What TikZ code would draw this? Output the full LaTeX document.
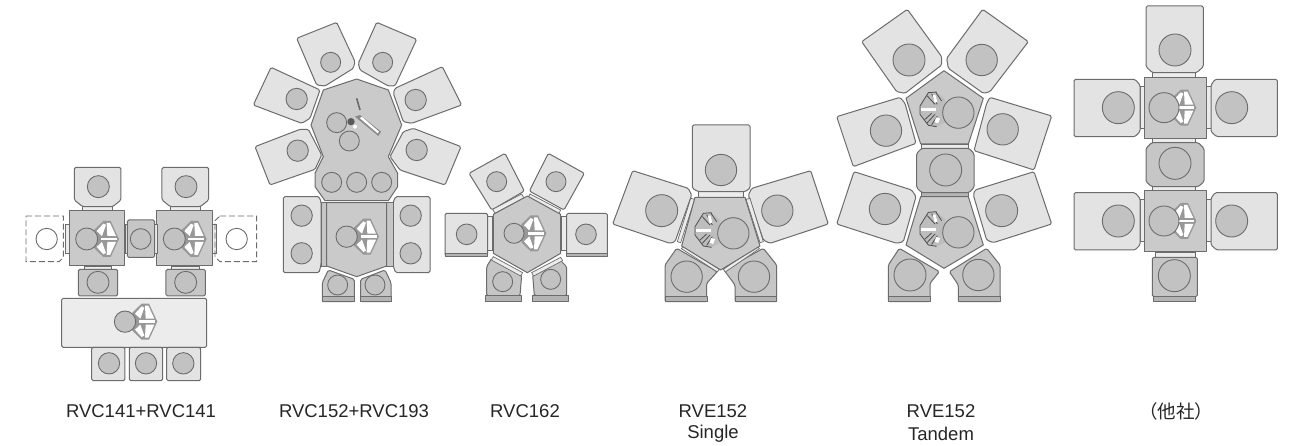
\documentclass[tikz,border=0pt]{standalone}
\usepackage{fontspec}
\setmainfont{Liberation Sans}
\newfontfamily\cjk{Noto Sans CJK JP}
\definecolor{lineg}{HTML}{6C6C6C}
\definecolor{lightg}{HTML}{E3E3E3}
\definecolor{paleg}{HTML}{ECECEC}
\definecolor{coreg}{HTML}{CACACA}
\definecolor{darkg}{HTML}{C6C6C6}
\definecolor{holeg}{HTML}{C2C2C2}
\definecolor{baseg}{HTML}{B4B4B4}
\tikzset{
  room/.style={draw=lineg,fill=lightg,line width=1pt,line join=round,rounded corners=1.5pt},
  core/.style={draw=lineg,fill=coreg,line width=1pt,line join=round},
  mid/.style={draw=lineg,fill=darkg,line width=1pt,line join=round,rounded corners=1.5pt},
  base/.style={draw=lineg,fill=baseg,line width=.9pt,line join=round},
  strip/.style={draw=lineg,fill=paleg,line width=.7pt},
  hole/.style={draw=lineg,fill=holeg,line width=.9pt},
  ghost/.style={draw=lineg,fill=white,line width=.9pt},
  ghostbox/.style={draw=lineg,dash pattern=on 6pt off 3pt,line width=.9pt},
  lab/.style={font=\fontsize{18.5}{22}\selectfont,text=black!85,anchor=center,inner sep=0pt},
  dia/.style={shift={#1},x=.33333pt,y=-.33333pt},
}
% light wrist: #1 centre of the robot's round body, #2 rotation, #3 scale
\newcommand{\wrist}[3]{%
  \begin{scope}[shift={#1},rotate=#2,scale=#3]
    \fill[lineg!70] (22,-27) -- (50,-54) -- (72,-54) -- (97,0) -- (72,54) -- (50,54) -- (22,27) -- cycle;
    \fill[white] (30,-24) -- (50,-46) -- (58,-42) -- (46,-9) -- cycle;
    \fill[white] (60,-48) -- (70,-48) -- (88,-9) -- (62,-9) -- cycle;
    \fill[white] (30,24) -- (50,46) -- (58,42) -- (46,9) -- cycle;
    \fill[white] (60,48) -- (70,48) -- (88,9) -- (62,9) -- cycle;
    \fill[white] (42,-4) rectangle (90,4);
  \end{scope}}
% dark wrist facing left
\newcommand{\darkwrist}[2]{%
  \begin{scope}[shift={#1},rotate=#2]
    \fill[lineg!45] (-35,-50) -- (-10,-52) -- (15,-30) -- (15,40) -- (-10,52) -- (-35,48) -- (-60,15) -- (-60,-10) -- cycle;
    \draw[black!70,line width=.8pt] (-10,-52) -- (-35,-50) -- (-60,-10) -- (-60,15) -- (-35,48) -- (-10,52)
      (-38,-40) -- (-15,-15) (-25,-46) -- (-8,-15) (-12,-50) -- (5,-25)
      (-38,40) -- (-15,15) (-25,46) -- (-8,20) (-45,30) -- (-25,12);
    \fill[white] (-58,-4) rectangle (-12,5);
    \fill[white] (-22,-42) -- (-14,-44) -- (-8,-22) -- (-16,-20) -- cycle;
    \fill[white] (-12,24) -- (0,28) -- (-6,42) -- (-16,38) -- cycle;
  \end{scope}}
\begin{document}
\begin{tikzpicture}[x=1pt,y=-1pt]
\useasboundingbox (0,0) rectangle (1290,446);
\fill[white] (0,0) rectangle (1290,446);

% ---------- RVC141+RVC141
\begin{scope}[dia={(10,150)}]
  \foreach \d in {0,263}{
    \begin{scope}[xshift=\d*.33333pt]
      \draw[strip] (218,170) rectangle (308,183);
      \draw[room] (193,52) -- (333,52) -- (333,150) -- (308,170) -- (218,170) -- (193,150) -- cycle;
      \draw[hole] (265,110) circle[radius=33];
      \draw[core] (178,183) rectangle (345,348);
      \draw[strip] (222,348) rectangle (305,358);
      \draw[mid] (205,358) rectangle (323,438);
      \draw[hole] (264,397) circle[radius=33];
      \wrist{(230,267)}{0}{1}
      \draw[hole] (230,267) circle[radius=33];
    \end{scope}}
  \draw[strip] (345,222) rectangle (352,310);
  \draw[strip] (434,222) rectangle (442,310);
  \draw[mid] (352,210) rectangle (434,322);
  \draw[hole] (392,267) circle[radius=31];
  \draw[strip] (165,222) rectangle (178,310);
  \draw[strip] (608,222) rectangle (618,310);
  \draw[ghostbox] (48,198) -- (160,198) -- (160,322) -- (147,335) -- (48,335) -- cycle;
  \draw[ghostbox] (630,198) -- (740,198) -- (740,335) -- (630,335) -- (615,320) -- (615,212) -- cycle;
  \draw[ghost] (110,267) circle[radius=32];
  \draw[ghost] (680,267) circle[radius=32];
  \draw[room,fill=paleg] (155,445) rectangle (590,592);
  \wrist{(345,515)}{0}{1}
  \draw[hole] (345,515) circle[radius=32];
  \draw[room] (245,592) rectangle (345,692);
  \draw[room] (358,592) rectangle (458,692);
  \draw[room] (470,592) rectangle (572,692);
  \draw[hole] (297,640) circle[radius=32];
  \draw[hole] (408,640) circle[radius=32];
  \draw[hole] (520,640) circle[radius=32];
\end{scope}

% ---------- RVC152+RVC193
\begin{scope}[dia={(245,10)}]
  \draw[room] (155,85) -- (275,37) -- (330,155) -- (325,175) -- (240,228) -- (215,225) -- cycle;
  \draw[room] (395,37) -- (515,88) -- (450,228) -- (430,228) -- (345,180) -- (340,160) -- cycle;
  \draw[room] (78,172) -- (225,240) -- (195,325) -- (170,340) -- (25,285) -- cycle;
  \draw[room] (592,170) -- (650,285) -- (500,340) -- (475,335) -- (445,250) -- (450,235) -- cycle;
  \draw[room] (30,410) -- (165,358) -- (190,358) -- (230,435) -- (210,478) -- (75,525) -- cycle;
  \draw[room] (505,355) -- (648,410) -- (600,525) -- (465,480) -- (435,440) -- (475,365) -- cycle;
  \draw[hole] (257,157) circle[radius=30];
  \draw[hole] (413,157) circle[radius=30];
  \draw[hole] (155,267) circle[radius=32];
  \draw[hole] (512,270) circle[radius=32];
  \draw[hole] (158,422) circle[radius=32];
  \draw[hole] (515,420) circle[radius=32];
  \draw[core] (335,207) -- (430,240) -- (470,345) -- (430,440) -- (458,490) -- (458,530) -- (430,572) -- (240,572) -- (210,530) -- (210,490) -- (235,440) -- (198,345) -- (235,240) -- cycle;
  \draw[hole] (260,517) circle[radius=30];
  \draw[hole] (335,517) circle[radius=30];
  \draw[hole] (410,517) circle[radius=30];
  \draw[lineg,line width=1.6pt] (335,265) -- (345,300);
  \fill[lineg!80] (330,320) -- (345,315) -- (408,365) -- (400,378) -- cycle;
  \fill[white] (345,325) -- (350,320) -- (402,365) -- (398,370) -- cycle;
  \draw[hole] (275,338) circle[radius=30];
  \draw[hole] (313,393) circle[radius=30];
  \fill[black!65] (318,335) circle[radius=11];
  \fill[white] (330,350) circle[radius=6];
  \draw[room] (115,560) -- (222,560) -- (228,575) -- (228,765) -- (222,788) -- (115,788) -- cycle;
  \draw[room] (445,575) -- (452,560) -- (555,560) -- (555,788) -- (452,788) -- (445,770) -- cycle;
  \draw[hole] (170,617) circle[radius=32];
  \draw[hole] (170,730) circle[radius=32];
  \draw[hole] (497,617) circle[radius=32];
  \draw[hole] (497,730) circle[radius=32];
  \draw[strip,fill=darkg] (228,578) rectangle (245,770);
  \draw[strip,fill=darkg] (425,578) rectangle (445,770);
  \draw[mid] (232,875) -- (232,818) -- (250,780) -- (328,808) -- (328,875) -- cycle;
  \draw[mid] (347,875) -- (347,808) -- (420,780) -- (438,818) -- (438,875) -- cycle;
  \draw[base] (232,858) rectangle (328,875);
  \draw[base] (347,858) rectangle (438,875);
  \draw[hole] (278,825) circle[radius=30];
  \draw[hole] (390,825) circle[radius=30];
  \draw[core] (245,578) -- (425,578) -- (425,768) -- (335,800) -- (245,768) -- cycle;
  \wrist{(305,680)}{0}{1}
  \draw[hole] (305,680) circle[radius=32];
\end{scope}

% ---------- RVC162 and RVE152 Single
\begin{scope}[dia={(440,120)}]
  \draw[strip] (143,290) rectangle (157,392);
  \draw[strip] (365,290) rectangle (380,392);
  \draw[room] (15,280) rectangle (143,408);
  \draw[room] (380,280) rectangle (502,408);
  \draw[base] (15,400) rectangle (143,408);
  \draw[base] (380,400) rectangle (502,408);
  \draw[room] (87,160) -- (195,100) -- (253,213) -- (155,270) -- cycle;
  \draw[room] (325,100) -- (433,160) -- (372,270) -- (268,213) -- cycle;
  \draw[mid] (140,527) -- (140,440) -- (155,415) -- (245,465) -- (240,527) -- cycle;
  \draw[mid] (283,527) -- (278,465) -- (360,420) -- (380,440) -- (380,527) -- cycle;
  \draw[base] (135,527) rectangle (243,545);
  \draw[base] (277,527) rectangle (385,545);
  \draw[hole] (80,343) circle[radius=31];
  \draw[hole] (438,343) circle[radius=31];
  \draw[hole] (170,185) circle[radius=30];
  \draw[hole] (348,185) circle[radius=30];
  \draw[hole] (188,485) circle[radius=30];
  \draw[hole] (332,478) circle[radius=30];
  \draw[strip] (158,268) -- (245,222) -- (252,234) -- (165,280) -- cycle;
  \draw[strip] (270,222) -- (362,270) -- (356,282) -- (264,234) -- cycle;
  \draw[strip] (160,410) -- (248,458) -- (242,468) -- (154,420) -- cycle;
  \draw[strip] (275,458) -- (362,412) -- (368,422) -- (281,468) -- cycle;
  \draw[core] (262,228) -- (362,283) -- (362,400) -- (262,458) -- (160,400) -- (160,283) -- cycle;
  \wrist{(222,340)}{0}{1}
  \draw[hole] (222,340) circle[radius=30];

  \draw[strip] (775,215) rectangle (910,232);
  \draw[room] (757,15) -- (930,15) -- (930,205) -- (915,215) -- (775,215) -- (757,205) -- cycle;
  \draw[room] (578,152) -- (745,205) -- (755,225) -- (705,365) -- (690,370) -- (518,312) -- cycle;
  \draw[room] (1112,152) -- (1165,312) -- (990,370) -- (970,360) -- (925,225) -- (935,205) -- cycle;
  \draw[mid] (675,545) -- (675,435) -- (710,385) -- (832,455) -- (800,490) -- (800,545) -- cycle;
  \draw[mid] (885,545) -- (885,495) -- (852,450) -- (970,385) -- (1010,435) -- (1010,545) -- cycle;
  \draw[base] (675,530) rectangle (802,545);
  \draw[base] (885,530) rectangle (1010,545);
  \draw[hole] (843,150) circle[radius=47];
  \draw[hole] (665,272) circle[radius=48];
  \draw[hole] (1012,272) circle[radius=47];
  \draw[hole] (740,470) circle[radius=47];
  \draw[hole] (942,470) circle[radius=47];
  \draw[strip] (752,235) -- (764,238) -- (722,368) -- (712,365) -- cycle;
  \draw[strip] (930,235) -- (918,238) -- (960,368) -- (970,365) -- cycle;
  \draw[strip] (730,378) -- (838,448) -- (832,456) -- (724,386) -- cycle;
  \draw[strip] (850,448) -- (952,378) -- (958,386) -- (856,456) -- cycle;
  \draw[core] (765,232) -- (915,232) -- (960,378) -- (842,450) -- (725,378) -- cycle;
  \darkwrist{(825,330)}{0}
  \draw[hole] (880,340) circle[radius=47];
\end{scope}

% ---------- RVE152 Tandem
\begin{scope}[dia={(830,0)}]
  \draw[room] (232,28) -- (335,170) -- (335,195) -- (225,280) -- (200,275) -- (95,125) -- cycle;
  \draw[room] (458,28) -- (595,125) -- (480,275) -- (460,280) -- (355,205) -- (350,175) -- cycle;
  \draw[room] (20,350) -- (210,292) -- (225,310) -- (258,430) -- (70,500) -- cycle;
  \draw[room] (480,292) -- (665,348) -- (612,510) -- (432,452) -- (470,310) -- cycle;
  \draw[room] (72,515) -- (245,570) -- (258,590) -- (220,725) -- (200,730) -- (20,672) -- cycle;
  \draw[room] (612,515) -- (665,672) -- (490,728) -- (470,720) -- (430,585) -- (435,570) -- cycle;
  \draw[mid] (175,905) -- (175,795) -- (208,745) -- (328,815) -- (300,850) -- (300,905) -- cycle;
  \draw[mid] (385,905) -- (385,855) -- (358,815) -- (470,745) -- (510,795) -- (510,905) -- cycle;
  \draw[base] (175,888) rectangle (300,905);
  \draw[base] (385,888) rectangle (510,905);
  \draw[hole] (237,180) circle[radius=48];
  \draw[hole] (455,180) circle[radius=47];
  \draw[hole] (168,392) circle[radius=47];
  \draw[hole] (518,388) circle[radius=47];
  \draw[hole] (165,627) circle[radius=47];
  \draw[hole] (515,632) circle[radius=48];
  \draw[hole] (240,825) circle[radius=48];
  \draw[hole] (445,825) circle[radius=47];
  \draw[strip] (275,432) rectangle (415,445);
  \draw[base] (275,578) rectangle (415,590);
  \draw[mid] (275,445) -- (417,445) -- (432,460) -- (432,563) -- (417,578) -- (275,578) -- (260,563) -- (260,460) -- cycle;
  \draw[hole] (347,510) circle[radius=48];
  \draw[core] (342,212) -- (460,295) -- (415,432) -- (272,432) -- (228,295) -- cycle;
  \draw[core] (272,590) -- (415,590) -- (460,735) -- (342,805) -- (228,735) -- cycle;
  \darkwrist{(330,328)}{0}
  \darkwrist{(330,687)}{0}
  \draw[hole] (385,338) circle[radius=47];
  \draw[hole] (385,697) circle[radius=47];
\end{scope}

% ---------- other company
\begin{scope}[dia={(1065,0)}]
  \foreach \dy in {0,340}{
    \begin{scope}[yshift=-\dy*.33333pt]
      \draw[strip] (225,258) rectangle (238,385);
      \draw[strip] (423,258) rectangle (438,385);
      \draw[room] (27,238) -- (210,238) -- (225,255) -- (225,395) -- (210,410) -- (27,410) -- cycle;
      \draw[room] (438,255) -- (450,238) -- (637,238) -- (637,410) -- (455,410) -- (438,395) -- cycle;
      \draw[hole] (160,323) circle[radius=48];
      \draw[hole] (500,323) circle[radius=48];
      \draw[core] (238,232) rectangle (423,415);
      \wrist{(297,323)}{0}{1}
      \draw[hole] (297,323) circle[radius=45];
    \end{scope}}
  \draw[strip] (262,218) rectangle (392,232);
  \draw[room] (243,18) -- (415,18) -- (415,200) -- (395,218) -- (262,218) -- (243,200) -- cycle;
  \draw[hole] (330,150) circle[radius=48];
  \draw[strip] (262,415) rectangle (392,428);
  \draw[strip] (262,560) rectangle (392,572);
  \draw[mid] (243,445) -- (260,428) -- (400,428) -- (417,445) -- (417,545) -- (400,560) -- (260,560) -- (243,545) -- cycle;
  \draw[hole] (330,490) circle[radius=48];
  \draw[strip] (270,757) rectangle (390,772);
  \draw[mid] (262,772) rectangle (397,890);
  \draw[base] (265,890) rectangle (392,905);
  \draw[hole] (328,827) circle[radius=48];
\end{scope}

% ---------- labels
\node[lab] (l1) at (141,411) {RVC141+RVC141};
\node[lab] (l2) at (354,411) {RVC152+RVC193};
\node[lab] (l3) at (525,411) {RVC162};
\node[lab] (l4) at (713,411) {RVE152};
\node[lab] (l4b) at (713,434) {Single};
\node[lab] (l5) at (941,411) {RVE152};
\node[lab] (l5b) at (941,434) {Tandem};
\node[lab] (l6) at (1176,411) {\cjk （他社）};
\end{tikzpicture}
\end{document}
